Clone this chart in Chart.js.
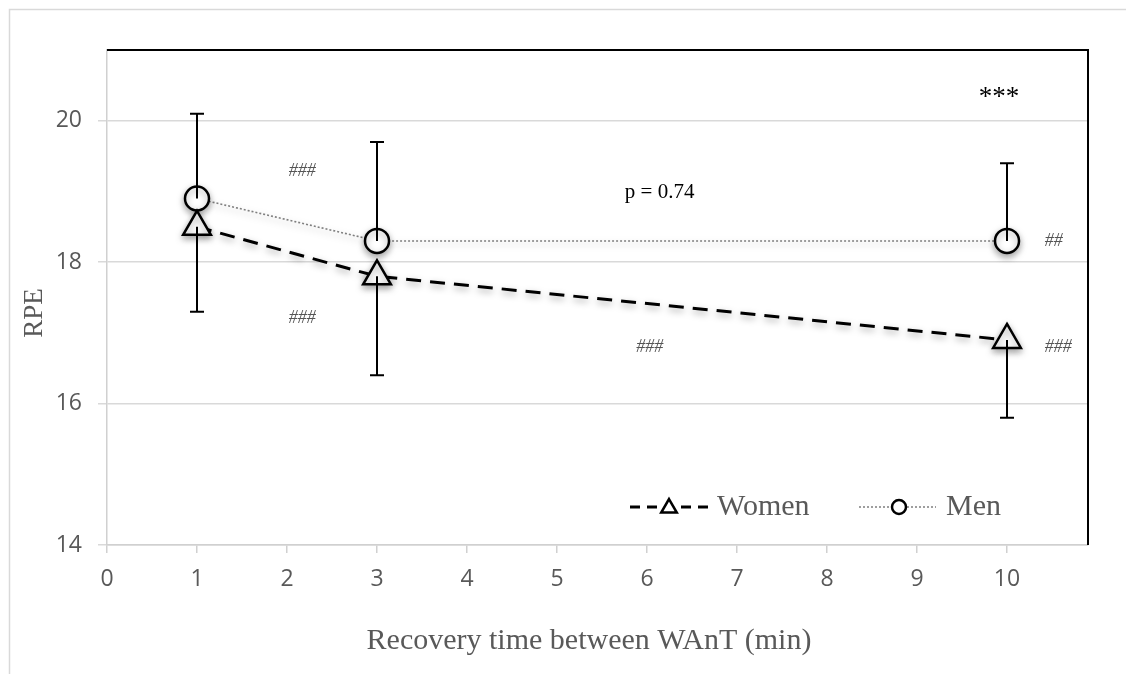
<!DOCTYPE html>
<html>
<head>
<meta charset="utf-8">
<script src="https://cdn.jsdelivr.net/npm/chart.js@4"></script>
<style>
  html, body { margin: 0; padding: 0; background: #fff; }
  #wrap { width: 1126px; height: 674px; }
</style>
</head>
<body>
<div id="wrap"><canvas id="chart" width="1126" height="674"></canvas></div>
<script>
// values
const times = [1, 3, 10];
const women = [18.5, 17.8, 16.9];
const womenSD = [1.2, 1.4, 1.1];   // drawn downwards
const men = [18.9, 18.3, 18.3];
const menSD = [1.2, 1.4, 1.1];     // drawn upwards
const yTicks = [14, 16, 18, 20];
const xTicks = [0, 1, 2, 3, 4, 5, 6, 7, 8, 9, 10];

const xTitle = "Recovery time between WAnT (min)";
const yTitle = "RPE";

// significance marks (data coordinates)
const noteText = ["###", "###", "p = 0.74", "***", "##", "###", "###"];
const noteX = [2.17, 2.17, 6.14, 9.91, 10.52, 6.03, 10.57];
const noteY = [19.29, 17.2, 18.98, 20.32, 18.29, 16.8, 16.8];
const noteKind = ["hash", "hash", "p", "star", "hash", "hash", "hash"];

const serif = "'Liberation Serif', 'DejaVu Serif', serif";
const sans = "'Open Sans', 'Noto Sans', sans-serif";
const gray = "#595959";

const toPts = (xs, ys) => xs.map((x, i) => ({ x: x, y: ys[i] }));

const extras = {
  id: "extras",
  beforeDraw(chart) {
    const ctx = chart.ctx;
    ctx.save();
    ctx.strokeStyle = "#d9d9d9";
    ctx.lineWidth = 1.5;
    ctx.strokeRect(9.5, 9.5, 1300, 900);
    ctx.restore();
  },
  beforeDatasetsDraw(chart) {
    const ctx = chart.ctx;
    ctx.save();
    ctx.shadowColor = "rgba(0,0,0,0.35)";
    ctx.shadowBlur = 7;
    ctx.shadowOffsetY = 3;
  },
  afterDatasetsDraw(chart) {
    const ctx = chart.ctx;
    ctx.restore();
    const xs = chart.scales.x, ys = chart.scales.y;
    const area = chart.chartArea;

    // black frame on top and right
    ctx.save();
    ctx.strokeStyle = "#000";
    ctx.lineWidth = 2;
    ctx.beginPath();
    ctx.moveTo(area.left, area.top);
    ctx.lineTo(area.right, area.top);
    ctx.lineTo(area.right, area.bottom);
    ctx.stroke();
    ctx.restore();

    // axis titles
    ctx.save();
    ctx.fillStyle = gray;
    ctx.textAlign = "center";
    ctx.textBaseline = "middle";
    ctx.font = "30px " + serif;
    ctx.fillText(xTitle, 589, 641);
    ctx.translate(35, 313);
    ctx.rotate(-Math.PI / 2);
    ctx.font = "27px " + serif;
    ctx.fillText(yTitle, 0, 0);
    ctx.restore();

    // error bars
    const bar = (x, y0, y1) => {
      const px = xs.getPixelForValue(x);
      const p0 = ys.getPixelForValue(y0);
      const p1 = ys.getPixelForValue(y1);
      ctx.beginPath();
      ctx.moveTo(px, p0);
      ctx.lineTo(px, p1);
      ctx.moveTo(px - 7, p1);
      ctx.lineTo(px + 7, p1);
      ctx.stroke();
    };
    ctx.save();
    ctx.strokeStyle = "#000";
    ctx.lineWidth = 2;
    times.forEach((t, i) => {
      bar(t, women[i], women[i] - womenSD[i]);
      bar(t, men[i], men[i] + menSD[i]);
    });
    ctx.restore();

    // notes
    ctx.save();
    ctx.textAlign = "center";
    ctx.textBaseline = "middle";
    noteText.forEach((txt, i) => {
      if (noteKind[i] === "hash") {
        ctx.font = "italic 18px " + serif;
        ctx.fillStyle = "#555";
      } else if (noteKind[i] === "p") {
        ctx.font = "21px " + serif;
        ctx.fillStyle = "#000";
      } else {
        ctx.font = "27px " + serif;
        ctx.fillStyle = "#000";
      }
      ctx.fillText(txt, xs.getPixelForValue(noteX[i]), ys.getPixelForValue(noteY[i]));
    });
    ctx.restore();

    // legend
    const ly = 507;
    const drawItem = (ds, x0, x1, mx, tx) => {
      ctx.save();
      ctx.strokeStyle = ds.borderColor;
      ctx.lineWidth = ds.borderWidth;
      ctx.setLineDash(ds.legendDash);
      ctx.beginPath();
      ctx.moveTo(x0, ly);
      ctx.lineTo(x1, ly);
      ctx.stroke();
      ctx.setLineDash([]);
      ctx.fillStyle = "#fff";
      ctx.strokeStyle = "#000";
      ctx.lineWidth = 2.5;
      const tri = ds.pointStyle === "triangle";
      Chart.helpers.drawPoint(ctx, {
        pointStyle: ds.pointStyle,
        radius: tri ? 9 : 7,
        borderWidth: 2.5,
        rotation: 0
      }, mx, ly + (tri ? 1 : 0));
      ctx.font = "30px " + serif;
      ctx.fillStyle = gray;
      ctx.textBaseline = "middle";
      ctx.fillText(ds.label, tx, ly);
      ctx.restore();
    };
    const d = chart.data.datasets;
    drawItem(d[0], 630, 708, 669, 717);
    drawItem(d[1], 859, 936, 899, 946);
  }
};

new Chart(document.getElementById("chart"), {
  type: "scatter",
  data: {
    datasets: [
      {
        label: "Women",
        data: toPts(times, women),
        showLine: true,
        borderColor: "#000",
        borderWidth: 3,
        borderDash: [15, 9],
        legendDash: [10, 7],
        pointStyle: "triangle",
        pointRadius: 16,
        pointBorderWidth: 2.5,
        pointBackgroundColor: "#fff",
        pointBorderColor: "#000"
      },
      {
        label: "Men",
        data: toPts(times, men),
        showLine: true,
        borderColor: "#7f7f7f",
        borderWidth: 1.6,
        borderDash: [2, 2],
        legendDash: [2, 2],
        pointStyle: "circle",
        pointRadius: 12,
        pointBorderWidth: 2.5,
        pointBackgroundColor: "#fff",
        pointBorderColor: "#000"
      }
    ]
  },
  options: {
    responsive: false,
    devicePixelRatio: 1,
    animation: false,
    layout: { padding: { left: 0, top: 50, right: 38, bottom: 0 } },
    plugins: {
      legend: { display: false },
      tooltip: { enabled: false }
    },
    scales: {
      x: {
        type: "linear",
        min: 0,
        max: 10.9,
        afterFit: (s) => { s.height = 129; },
        afterBuildTicks: (s) => { s.ticks = xTicks.map((v) => ({ value: v })); },
        ticks: {
          padding: 13,
          color: gray,
          font: { family: sans, size: 23 }
        },
        grid: {
          drawOnChartArea: false,
          tickLength: 8,
          color: "#d0d0d0",
          lineWidth: 1.5
        },
        border: { color: "#d0d0d0", width: 1.5 }
      },
      y: {
        min: 14,
        max: 21,
        afterFit: (s) => { s.width = 107; },
        afterBuildTicks: (s) => { s.ticks = yTicks.map((v) => ({ value: v })); },
        ticks: {
          padding: 16,
          color: gray,
          font: { family: sans, size: 23 }
        },
        grid: {
          tickLength: 9,
          color: "#d9d9d9",
          lineWidth: 1.5
        },
        border: { color: "#d0d0d0", width: 1.5 }
      }
    }
  },
  plugins: [extras]
});
</script>
</body>
</html>
